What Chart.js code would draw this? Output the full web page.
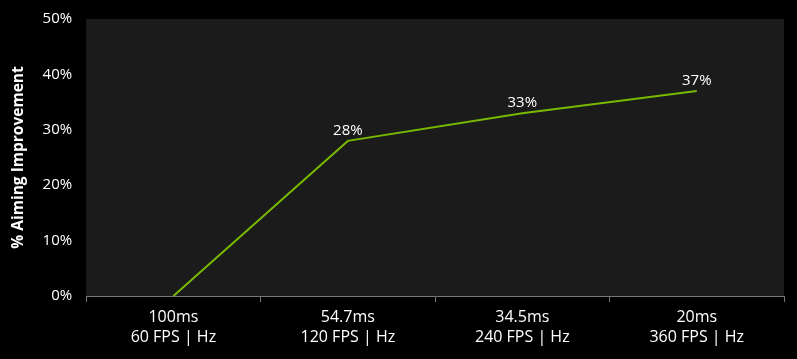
<!DOCTYPE html>
<html><head><meta charset="utf-8">
<script src="https://cdn.jsdelivr.net/npm/chart.js@4"></script>
<style>html,body{margin:0;padding:0;background:#000;}#wrap{width:797px;height:359px;}</style>
</head><body><div id="wrap"><canvas id="c"></canvas></div>
<script>
const categories = [["100ms","60 FPS | Hz"],["54.7ms","120 FPS | Hz"],["34.5ms","240 FPS | Hz"],["20ms","360 FPS | Hz"]];
const improvement = [0, 28, 33, 37];
const yTicks = [0, 10, 20, 30, 40, 50];
const yTitle = "% Aiming Improvement";

const bgPlugin = {
  id: 'bg',
  beforeDraw(chart) {
    const {ctx, chartArea: a} = chart;
    ctx.save();
    ctx.fillStyle = '#000';
    ctx.fillRect(0, 0, chart.width, chart.height);
    ctx.fillStyle = '#1b1b1b';
    ctx.fillRect(a.left, a.top, a.right - a.left, a.bottom - a.top);
    ctx.restore();
  }
};
const labelPlugin = {
  id: 'lbl',
  afterDatasetsDraw(chart) {
    const {ctx} = chart;
    const meta = chart.getDatasetMeta(0);
    ctx.save();
    ctx.fillStyle = '#fff';
    ctx.font = '15px "Open Sans"';
    ctx.textAlign = 'center';
    ctx.textBaseline = 'bottom';
    meta.data.forEach((p, i) => {
      if (improvement[i] === 0) return;
      ctx.fillText(improvement[i] + '%', p.x, p.y - 3);
    });
    ctx.restore();
  }
};

new Chart(document.getElementById('c'), {
  type: 'line',
  data: {
    labels: categories,
    datasets: [{
      data: improvement,
      borderColor: '#76b900',
      borderWidth: 2,
      pointRadius: 0,
      tension: 0,
      fill: false
    }]
  },
  options: {
    responsive: true,
    maintainAspectRatio: false,
    animation: false,
    layout: { padding: { top: 19, right: 13, left: 9, bottom: 7 } },
    plugins: { legend: { display: false }, tooltip: { enabled: false } },
    scales: {
      x: {
        offset: true,
        grid: { offset: true, drawOnChartArea: false, color: '#777', tickLength: 6 },
        border: { color: '#777', width: 1 },
        ticks: { color: '#fff', font: { family: 'Open Sans', size: 16, lineHeight: 1.25 }, padding: 5, maxRotation: 0 }
      },
      y: {
        min: 0, max: 50,
        afterBuildTicks(scale) { scale.ticks = yTicks.map(v => ({value: v})); },
        afterFit(scale) { scale.paddingTop = 0; scale.paddingBottom = 0; },
        grid: { display: false, drawTicks: false, tickLength: 0 },
        border: { display: false },
        ticks: { color: '#fff', font: { family: 'Open Sans', size: 15 }, padding: 14, callback: v => v + '%' },
        title: { display: true, text: yTitle, color: '#fff', font: { family: 'Open Sans', size: 15.5, weight: 'bold' }, padding: { top: 0, bottom: 1 } }
      }
    }
  },
  plugins: [bgPlugin, labelPlugin]
});
</script></body></html>
